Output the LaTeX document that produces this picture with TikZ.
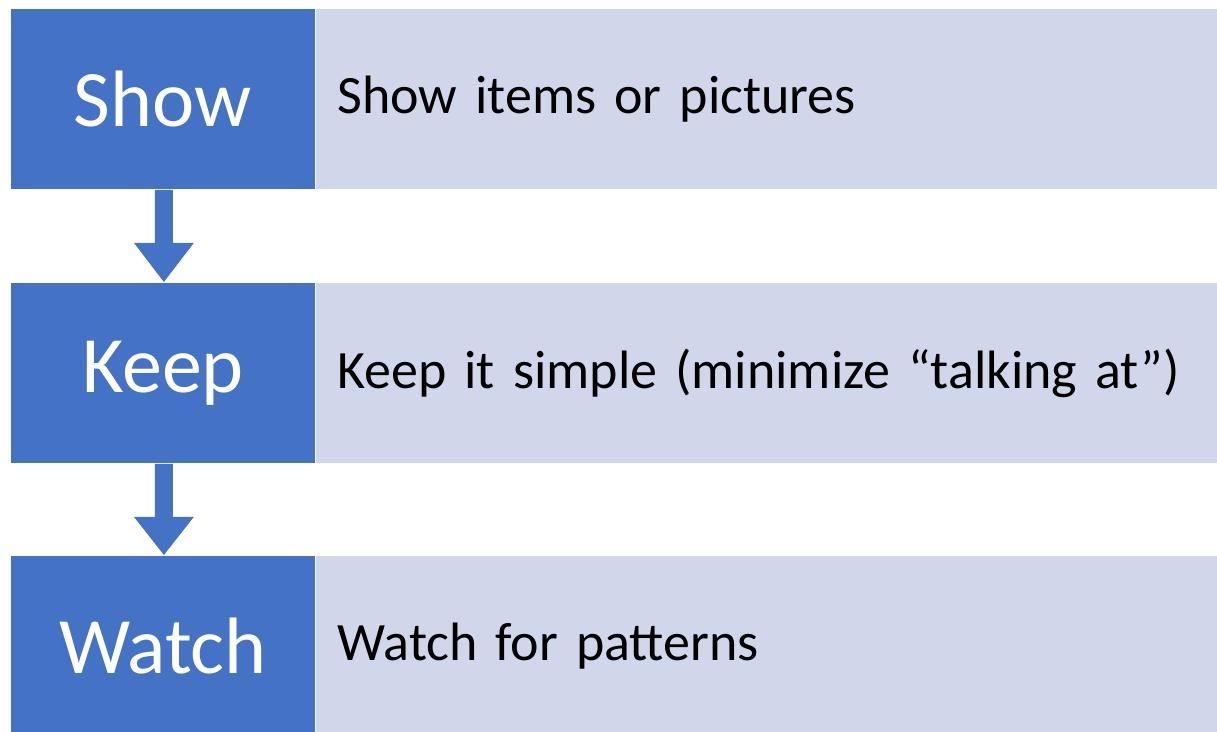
\documentclass[tikz,border=0pt]{standalone}
\usepackage{fontspec}
\setmainfont{Carlito}
\usetikzlibrary{calc}
\definecolor{accent}{HTML}{4472C4}
\definecolor{lightbox}{HTML}{D0D7EB}
\begin{document}
\begin{tikzpicture}[x=1pt,y=-1pt,
  keybox/.style={fill=accent,draw=white,line width=0.8pt,minimum width=305pt,minimum height=181pt,inner sep=0pt,text=white,font=\fontsize{80}{90}\selectfont,anchor=north west},
  descbox/.style={fill=lightbox,draw=white,line width=0.8pt,minimum width=902pt,minimum height=181pt,inner sep=0pt,anchor=north west,text width=858pt,align=left,font=\fontsize{54}{64}\selectfont},
  flowarrow/.style={fill=accent,draw=none}]
\useasboundingbox (0,0) rectangle (1217,731);
\node[descbox] (d1) at (315,8) {Show items or pictures};
\node[descbox] (d2) at (315,282) {Keep it simple (minimize “talking at”)};
\node[descbox] (d3) at (315,555) {Watch for patterns};
\node[keybox] (k1) at (10,8) {Show};
\node[keybox] (k2) at (10,282) {Keep};
\node[keybox] (k3) at (10,555) {Watch};
\foreach \a/\b in {k1/k2,k2/k3}{
  \fill[flowarrow] ($(\a.south)+(-8,0)$) -- ($(\a.south)+(10,0)$)
    -- ($(\a.south)+(10,53)$) -- ($(\a.south)+(31,53)$)
    -- ($(\b.north)+(1,0)$) -- ($(\a.south)+(-29,53)$) -- ($(\a.south)+(-8,53)$) -- cycle;
}
\end{tikzpicture}
\end{document}
